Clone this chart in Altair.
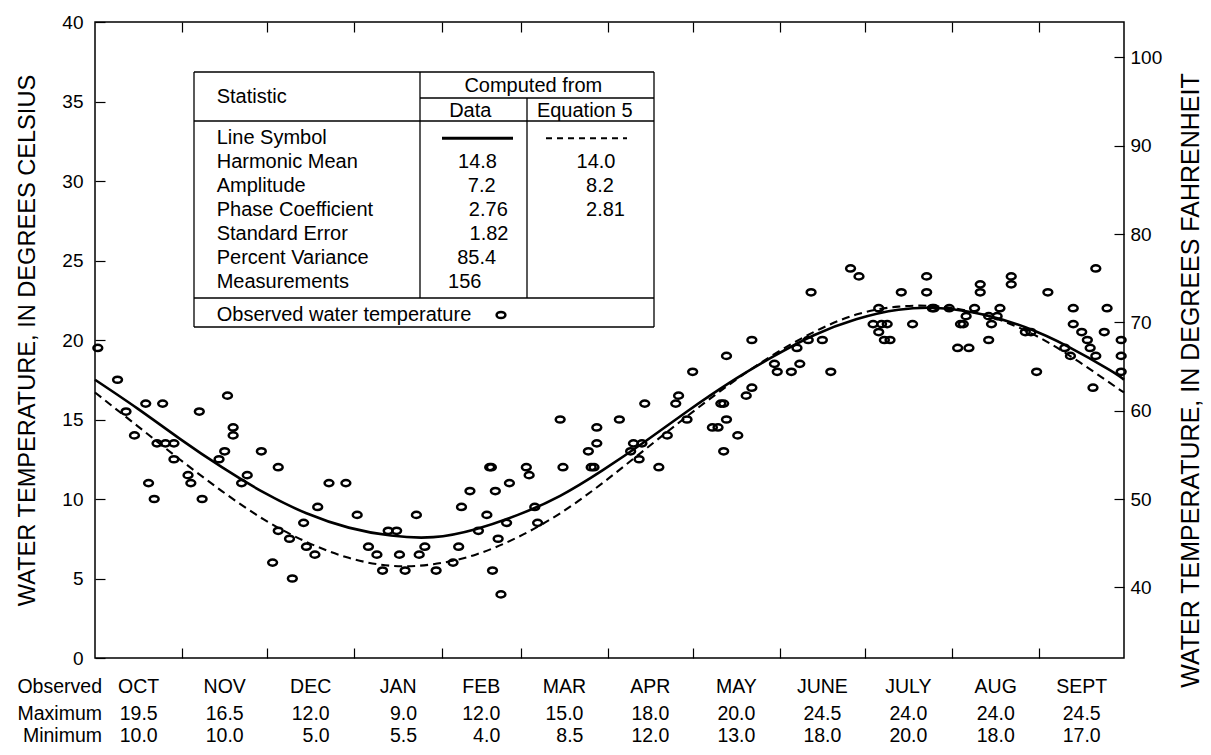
import altair as alt
import pandas as pd

# ---------------- data ----------------
# Observed water temperature: day of water year (0 = Oct 1) and degrees Celsius
obs_day = [1, 8, 11, 14, 18, 19, 21, 22, 24, 25, 28, 28, 33, 34, 37, 38, 44, 46, 47, 49,
           49, 52, 54, 59, 65, 63, 65, 69, 70, 74, 75, 78, 79, 83, 89,
           93, 97, 100, 102, 104, 107, 108, 110, 114, 115, 117, 121, 127, 129, 130, 133,
           136, 139, 140, 140.6, 141, 142, 143, 144, 146, 147, 153, 154, 156, 157, 165, 166,
           175, 176, 177, 178, 178, 186, 190, 191, 194, 193, 195, 200, 203, 206, 207,
           210, 212, 219, 221, 222, 223, 223, 224, 224, 228, 231, 233, 233, 241, 242, 247,
           249, 250, 253, 254, 258, 261, 268, 271, 276, 278, 278, 279, 280, 281, 282, 286,
           290, 295, 295, 297, 297.6, 303, 306, 307, 308, 309, 310, 312, 314, 314, 317, 317,
           318, 320, 321, 325, 325, 330, 332, 334, 338, 344, 346, 347, 347, 350, 352, 353,
           354, 355, 355, 358, 359, 364, 364, 364]
obs_temp = [19.5, 17.5, 15.5, 14.0, 16.0, 11.0, 10.0, 13.5, 16.0, 13.5, 13.5, 12.5, 11.5, 11.0, 15.5, 10.0, 12.5, 13.0, 16.5, 14.5,
            14.0, 11.0, 11.5, 13.0, 12.0, 6.0, 8.0, 7.5, 5.0, 8.5, 7.0, 6.5, 9.5, 11.0, 11.0,
            9.0, 7.0, 6.5, 5.5, 8.0, 8.0, 6.5, 5.5, 9.0, 6.5, 7.0, 5.5, 6.0, 7.0, 9.5, 10.5,
            8.0, 9.0, 12.0, 12.0, 5.5, 10.5, 7.5, 4.0, 8.5, 11.0, 12.0, 11.5, 9.5, 8.5, 15.0, 12.0,
            13.0, 12.0, 12.0, 14.5, 13.5, 15.0, 13.0, 13.5, 13.5, 12.5, 16.0, 12.0, 14.0, 16.0, 16.5,
            15.0, 18.0, 14.5, 14.5, 16.0, 16.0, 13.0, 15.0, 19.0, 14.0, 16.5, 17.0, 20.0, 18.5, 18.0, 18.0,
            19.5, 18.5, 20.0, 23.0, 20.0, 18.0, 24.5, 24.0, 21.0, 22.0, 20.5, 21.0, 20.0, 21.0, 20.0, 23.0,
            21.0, 24.0, 23.0, 22.0, 22.0, 22.0, 19.5, 21.0, 21.0, 21.5, 19.5, 22.0, 23.5, 23.0, 21.5, 20.0,
            21.0, 21.5, 22.0, 24.0, 23.5, 20.5, 20.5, 18.0, 23.0, 19.5, 19.0, 22.0, 21.0, 20.5, 20.0, 19.5,
            17.0, 24.5, 19.0, 20.5, 22.0, 20.0, 19.0, 18.0]

# Fitted curves, every 15 days
curve_day = [0, 15, 30, 45, 60, 75, 90, 105, 120, 135, 150, 165, 180, 195, 210, 225,
             240, 255, 270, 285, 300, 315, 330, 345, 360, 365]
data_curve = [17.5, 15.7, 13.8, 12.0, 10.4, 9.1, 8.2, 7.7, 7.6, 8.1, 9.0, 10.2, 11.8, 13.6, 15.5, 17.3,
              18.9, 20.3, 21.3, 21.9, 22.0, 21.6, 20.8, 19.6, 18.1, 17.5]
eq5_curve = [16.7, 14.6, 12.5, 10.5, 8.7, 7.3, 6.3, 5.8, 5.9, 6.5, 7.6, 9.1, 11.0, 13.1, 15.2, 17.2,
             19.0, 20.5, 21.6, 22.1, 22.1, 21.6, 20.6, 19.1, 17.3, 16.7]

months = ["OCT", "NOV", "DEC", "JAN", "FEB", "MAR", "APR", "MAY", "JUNE", "JULY", "AUG", "SEPT"]
month_days = [31, 30, 31, 31, 28, 31, 30, 31, 30, 31, 31, 30]
obs_max = ["19.5", "16.5", "12.0", "9.0", "12.0", "15.0", "18.0", "20.0", "24.5", "24.0", "24.0", "24.5"]
obs_min = ["10.0", "10.0", "5.0", "5.5", "4.0", "8.5", "12.0", "13.0", "18.0", "20.0", "18.0", "17.0"]
row_headers = ["Observed", "Maximum", "Minimum"]

stat_names = ["Line Symbol", "Harmonic Mean", "Amplitude", "Phase Coefficient",
              "Standard Error", "Percent Variance", "Measurements"]
data_vals = ["14.8", "7.2", "2.76", "1.82", "85.4", "156"]
eq_vals = ["14.0", "8.2", "2.81"]

celsius_ticks = [0, 5, 10, 15, 20, 25, 30, 35, 40]
fahrenheit_ticks = [40, 50, 60, 70, 80, 90, 100]

# ---------------- layout (pixels, plot coordinates) ----------------
W, H = 1029, 636
FONT = "Liberation Sans"
TXT = 20
ROW_TXT = 19.5

bounds = [0]
for d in month_days:
    bounds.append(bounds[-1] + d)
mids = [(bounds[i] + bounds[i + 1]) / 2 for i in range(12)]

row_y = [665, 692, 714]
leg_row_y = [116.3 + 23.9 * i for i in range(7)]
data_x = [382.5, 386.7, 393.3, 394.0, 381.7, 369.7]
eq_x = [501, 505, 510.5]

XS = alt.Scale(domain=[0, 365], nice=False, zero=False)
YS = alt.Scale(domain=[0, 40], nice=False, zero=False)
ELLIPSE = "M-1,0A1,0.7,0,1,1,1,0A1,0.7,0,1,1,-1,0Z"
PT_SIZE = 78
PT_STROKE = 2.5

# ---------------- layers ----------------
obs_df = pd.DataFrame({"day": obs_day, "temp": obs_temp})
curve_df = pd.DataFrame({"day": curve_day, "data": data_curve, "eq5": eq5_curve})

solid = alt.Chart(curve_df).mark_line(color="black", strokeWidth=2.6, interpolate="natural").encode(
    x=alt.X("day:Q", scale=XS, axis=None),
    y=alt.Y("data:Q", scale=YS, axis=None),
)

dashed = alt.Chart(curve_df).mark_line(color="black", strokeWidth=2.1, strokeDash=[8, 5],
                                       interpolate="natural").encode(
    x=alt.X("day:Q", scale=XS,
            axis=alt.Axis(orient="top", values=bounds[1:-1], offset=-10, tickSize=10,
                          domain=False, labels=False, grid=False, title=None)),
    y=alt.Y("eq5:Q", scale=YS, axis=None),
)

points = alt.Chart(obs_df).mark_point(shape=ELLIPSE, filled=False, size=PT_SIZE, strokeWidth=PT_STROKE,
                                      color="black", opacity=1).encode(
    x=alt.X("day:Q", scale=XS,
            axis=alt.Axis(orient="bottom", values=bounds[1:-1], offset=-10, tickSize=10,
                          domain=False, labels=False, grid=False, title=None)),
    y=alt.Y("temp:Q", scale=YS,
            axis=alt.Axis(orient="left", values=celsius_ticks, offset=-10, tickSize=10,
                          domain=False, grid=False, labelPadding=12, labelFontSize=19,
                          labelFlush=False, labelOverlap=False,
                          title="WATER TEMPERATURE, IN DEGREES CELSIUS", titleFontSize=23.6,
                          titlePadding=22)),
)

f_df = pd.DataFrame({"f": fahrenheit_ticks})
f_axis = alt.Chart(f_df).mark_point(opacity=0).encode(
    x=alt.value(0),
    y=alt.Y("f:Q", scale=alt.Scale(domain=[32, 104], nice=False, zero=False),
            axis=alt.Axis(orient="right", values=fahrenheit_ticks, offset=-10, tickSize=10,
                          domain=False, grid=False, labelPadding=6, labelFontSize=19,
                          labelFlush=False, labelOverlap=False,
                          title="WATER TEMPERATURE, IN DEGREES FAHRENHEIT", titleFontSize=25,
                          titleAngle=270, titleBaseline="top", titleY=358, titlePadding=17)),
)

# bottom table of observed extremes
month_df = pd.DataFrame({"month": months, "mid": mids, "max": obs_max, "min": obs_min})
month_lab = alt.Chart(month_df).mark_text(font=FONT, fontSize=ROW_TXT, color="black", baseline="middle").encode(
    x=alt.X("mid:Q", scale=XS, axis=None), y=alt.value(row_y[0]), text="month:N")
max_lab = alt.Chart(month_df).mark_text(font=FONT, fontSize=ROW_TXT, color="black", baseline="middle",
                                        align="right", dx=19).encode(
    x=alt.X("mid:Q", scale=XS, axis=None), y=alt.value(row_y[1]), text="max:N")
min_lab = alt.Chart(month_df).mark_text(font=FONT, fontSize=ROW_TXT, color="black", baseline="middle",
                                        align="right", dx=19).encode(
    x=alt.X("mid:Q", scale=XS, axis=None), y=alt.value(row_y[2]), text="min:N")
hdr_df = pd.DataFrame({"label": row_headers, "py": row_y})
hdr_lab = alt.Chart(hdr_df).mark_text(font=FONT, fontSize=ROW_TXT, color="black", baseline="middle",
                                      align="right").encode(
    x=alt.value(7), y=alt.Y("py:Q", scale=None), text="label:N")

# statistics table (legend)
seg_df = pd.DataFrame({
    "x":  [99, 99, 99, 559, 325, 432, 325, 99, 99],
    "x2": [559, 559, 99, 559, 325, 432, 559, 559, 559],
    "y":  [50, 305, 50, 50, 50, 76, 76, 99, 276],
    "y2": [50, 305, 305, 305, 276, 276, 76, 99, 276],
})
leg_rules = alt.Chart(seg_df).mark_rule(color="black", strokeWidth=1.3).encode(
    x=alt.X("x:Q", scale=None), x2="x2:Q", y=alt.Y("y:Q", scale=None), y2="y2:Q")

left_df = pd.DataFrame({
    "label": ["Statistic"] + stat_names + ["Observed water temperature"],
    "px": [121.7] * 9,
    "py": [74.7] + leg_row_y + [293],
})
leg_left = alt.Chart(left_df).mark_text(font=FONT, fontSize=TXT, color="black", baseline="middle",
                                        align="left").encode(
    x=alt.X("px:Q", scale=None), y=alt.Y("py:Q", scale=None), text="label:N")

center_df = pd.DataFrame({
    "label": ["Computed from", "Data", "Equation 5"] + data_vals + eq_vals,
    "px": [438.3, 375.3, 489.7] + data_x + eq_x,
    "py": [64, 89, 89] + leg_row_y[1:] + leg_row_y[1:4],
})
leg_center = alt.Chart(center_df).mark_text(font=FONT, fontSize=TXT, color="black", baseline="middle",
                                            align="center").encode(
    x=alt.X("px:Q", scale=None), y=alt.Y("py:Q", scale=None), text="label:N")

sym_solid = alt.Chart(pd.DataFrame({"x": [347], "x2": [418], "y": [leg_row_y[0]]})).mark_rule(
    color="black", strokeWidth=3).encode(x=alt.X("x:Q", scale=None), x2="x2:Q", y=alt.Y("y:Q", scale=None))
sym_dash = alt.Chart(pd.DataFrame({"x": [451], "x2": [532], "y": [leg_row_y[0]]})).mark_rule(
    color="black", strokeWidth=2, strokeDash=[6, 5]).encode(
    x=alt.X("x:Q", scale=None), x2="x2:Q", y=alt.Y("y:Q", scale=None))
sym_pt = alt.Chart(pd.DataFrame({"x": [406], "y": [293]})).mark_point(
    shape=ELLIPSE, filled=False, size=PT_SIZE, strokeWidth=PT_STROKE, color="black", opacity=1).encode(
    x=alt.X("x:Q", scale=None), y=alt.Y("y:Q", scale=None))

chart = alt.layer(
    leg_rules, leg_left, leg_center, sym_solid, sym_dash, sym_pt,
    solid, dashed, points, f_axis,
    month_lab, max_lab, min_lab, hdr_lab,
).resolve_scale(y="independent").resolve_axis(x="independent", y="independent").properties(
    width=W, height=H,
    autosize=alt.AutoSizeParams(type="none"),
    padding={"left": 87, "top": 14, "right": 79, "bottom": 89},
).configure_view(
    stroke="black", strokeWidth=1.5
).configure_axis(
    labelFont=FONT, titleFont=FONT, labelColor="black", titleColor="black",
    tickColor="black", tickWidth=1.2, titleFontWeight="normal", grid=False,
)

chart.save("out.html", embed_options={"renderer": "svg", "actions": False})
